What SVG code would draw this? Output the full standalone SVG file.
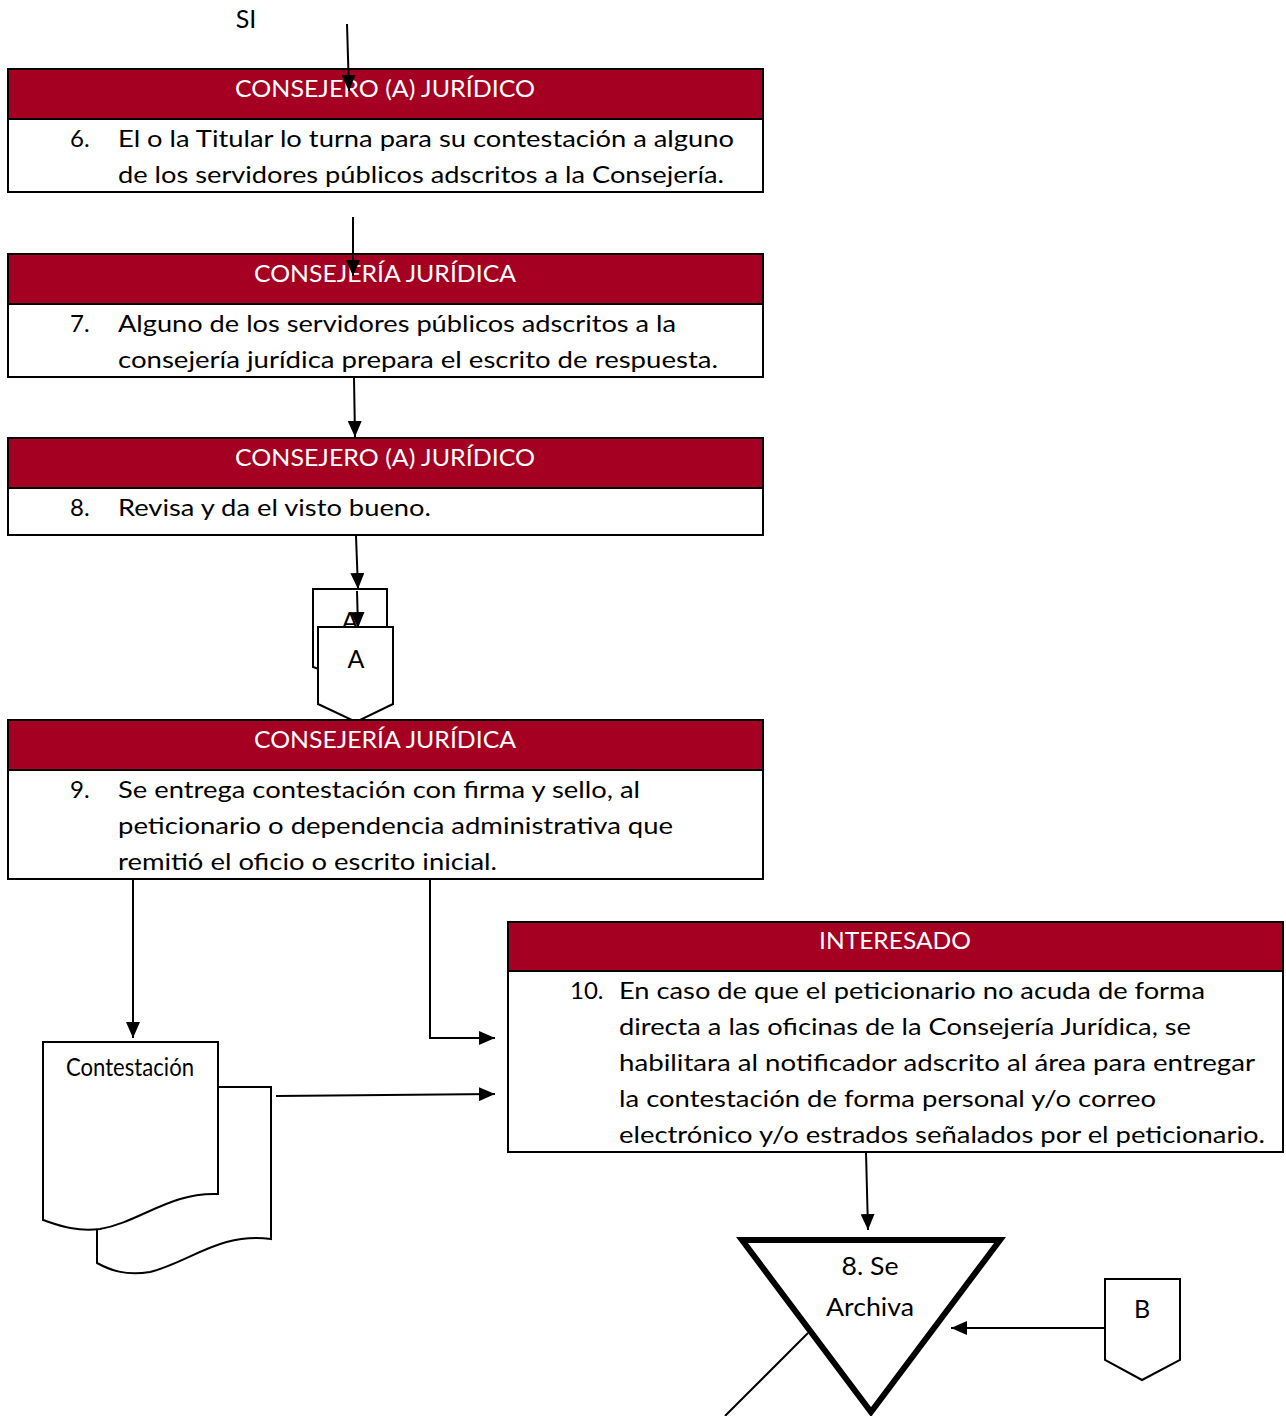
<svg xmlns="http://www.w3.org/2000/svg" width="1286" height="1416" viewBox="0 0 1286 1416">
<style>
.hdr{fill:#A50021;stroke:#000;stroke-width:2}
.body{fill:#fff;stroke:#000;stroke-width:2}
.ht{font-family:Lato,"Liberation Sans",sans-serif;font-size:24px;fill:#fff;text-anchor:middle}
.bt{font-family:Lato,"Liberation Sans",sans-serif;font-size:24px;fill:#000}
.lbl{font-family:Lato,"Liberation Sans",sans-serif;font-size:25px;fill:#000;text-anchor:middle}
.shape{fill:#fff;stroke:#000;stroke-width:2}
.conn{fill:none;stroke:#000;stroke-width:2}
</style>
<defs>
<marker id="ah" viewBox="0 0 16 14" refX="16" refY="7" markerWidth="16" markerHeight="14" markerUnits="userSpaceOnUse" orient="auto">
<path d="M0,0 L16,7 L0,14 z" fill="#000"/>
</marker>
</defs>
<rect width="1286" height="1416" fill="#fff"/>

<text x="246" y="28" class="lbl" font-size="24">SI</text>

<g id="node6">
<rect x="8" y="69" width="755" height="50" class="hdr"/>
<rect x="8" y="119" width="755" height="73" class="body"/>
<text x="385" y="97" class="ht" textLength="300" lengthAdjust="spacingAndGlyphs">CONSEJERO (A) JURÍDICO</text>
<text x="70" y="147" class="bt">6.</text>
<text x="118" y="147" class="bt" textLength="616" lengthAdjust="spacingAndGlyphs">El o la Titular lo turna para su contestación a alguno</text>
<text x="118" y="183" class="bt" textLength="606" lengthAdjust="spacingAndGlyphs">de los servidores públicos adscritos a la Consejería.</text>
</g>

<g id="node7">
<rect x="8" y="254" width="755" height="50" class="hdr"/>
<rect x="8" y="304" width="755" height="73" class="body"/>
<text x="385" y="282" class="ht" textLength="262" lengthAdjust="spacingAndGlyphs">CONSEJERÍA JURÍDICA</text>
<text x="70" y="332" class="bt">7.</text>
<text x="118" y="332" class="bt" textLength="558" lengthAdjust="spacingAndGlyphs">Alguno de los servidores públicos adscritos a la</text>
<text x="118" y="368" class="bt" textLength="600" lengthAdjust="spacingAndGlyphs">consejería jurídica prepara el escrito de respuesta.</text>
</g>

<g id="node8">
<rect x="8" y="438" width="755" height="50" class="hdr"/>
<rect x="8" y="488" width="755" height="47" class="body"/>
<text x="385" y="466" class="ht" textLength="300" lengthAdjust="spacingAndGlyphs">CONSEJERO (A) JURÍDICO</text>
<text x="70" y="516" class="bt">8.</text>
<text x="118" y="516" class="bt" textLength="313" lengthAdjust="spacingAndGlyphs">Revisa y da el visto bueno.</text>
</g>

<g id="connA-back">
<path d="M313,589 L387,589 L387,667 L350,680 L313,667 Z" class="shape"/>
<text x="350" y="630" class="lbl">A</text>
</g>
<g id="connA">
<path d="M318,627 L393,627 L393,704 L356,722 L318,704 Z" class="shape"/>
<text x="356" y="668" class="lbl">A</text>
</g>

<g id="node9">
<rect x="8" y="720" width="755" height="50" class="hdr"/>
<rect x="8" y="770" width="755" height="109" class="body"/>
<text x="385" y="748" class="ht" textLength="262" lengthAdjust="spacingAndGlyphs">CONSEJERÍA JURÍDICA</text>
<text x="70" y="798" class="bt">9.</text>
<text x="118" y="798" class="bt" textLength="522" lengthAdjust="spacingAndGlyphs">Se entrega contestación con firma y sello, al</text>
<text x="118" y="834" class="bt" textLength="555" lengthAdjust="spacingAndGlyphs">peticionario o dependencia administrativa que</text>
<text x="118" y="870" class="bt" textLength="379" lengthAdjust="spacingAndGlyphs">remitió el oficio o escrito inicial.</text>
</g>

<g id="node10">
<rect x="508" y="922" width="775" height="49" class="hdr"/>
<rect x="508" y="971" width="775" height="181" class="body"/>
<text x="895" y="949" class="ht" textLength="152" lengthAdjust="spacingAndGlyphs">INTERESADO</text>
<text x="570" y="999" class="bt">10.</text>
<text x="619" y="999" class="bt" textLength="586" lengthAdjust="spacingAndGlyphs">En caso de que el peticionario no acuda de forma</text>
<text x="619" y="1035" class="bt" textLength="572" lengthAdjust="spacingAndGlyphs">directa a las oficinas de la Consejería Jurídica, se</text>
<text x="619" y="1071" class="bt" textLength="636" lengthAdjust="spacingAndGlyphs">habilitara al notificador adscrito al área para entregar</text>
<text x="619" y="1107" class="bt" textLength="537" lengthAdjust="spacingAndGlyphs">la contestación de forma personal y/o correo</text>
<text x="619" y="1143" class="bt" textLength="646" lengthAdjust="spacingAndGlyphs">electrónico y/o estrados señalados por el peticionario.</text>
</g>

<g id="doc-contestacion">
<path d="M216,1087 L271,1087 L271,1239 C220,1232 190,1262 150,1272 C125,1276 110,1270 97,1263 L97,1230" class="shape"/>
<path d="M43,1042 L218,1042 L218,1194 C170,1192 140,1222 100,1229 C75,1232 58,1225 43,1220 Z" class="shape"/>
<text x="130" y="1076" class="lbl" font-size="21" textLength="128" lengthAdjust="spacingAndGlyphs">Contestación</text>
</g>

<g id="archivo">
<path d="M742,1240 L1000,1240 L871,1412 Z" fill="#fff" stroke="#000" stroke-width="6"/>
<text x="870" y="1275" class="lbl" font-size="26" textLength="57" lengthAdjust="spacingAndGlyphs">8. Se</text>
<text x="870" y="1316" class="lbl" font-size="26" textLength="88" lengthAdjust="spacingAndGlyphs">Archiva</text>
</g>

<g id="connB">
<path d="M1105,1279 L1180,1279 L1180,1360 L1142,1380 L1105,1360 Z" class="shape"/>
<text x="1142" y="1318" class="lbl">B</text>
</g>

<g id="connectors">
<line x1="347" y1="24" x2="349" y2="91" class="conn" marker-end="url(#ah)"/>
<line x1="353" y1="217" x2="353" y2="276" class="conn" marker-end="url(#ah)"/>
<line x1="354" y1="378" x2="355" y2="437" class="conn" marker-end="url(#ah)"/>
<line x1="356" y1="536" x2="358" y2="589" class="conn" marker-end="url(#ah)"/>
<line x1="357" y1="591" x2="358" y2="628" class="conn" marker-end="url(#ah)"/>
<line x1="133" y1="880" x2="133" y2="1038" class="conn" marker-end="url(#ah)"/>
<polyline points="430,880 430,1038 495,1038" class="conn" marker-end="url(#ah)"/>
<line x1="276" y1="1096" x2="495" y2="1094" class="conn" marker-end="url(#ah)"/>
<line x1="866" y1="1152" x2="868" y2="1230" class="conn" marker-end="url(#ah)"/>
<line x1="1105" y1="1328" x2="951" y2="1328" class="conn" marker-end="url(#ah)"/>
<line x1="808" y1="1333" x2="725" y2="1416" class="conn"/>
</g>
</svg>
